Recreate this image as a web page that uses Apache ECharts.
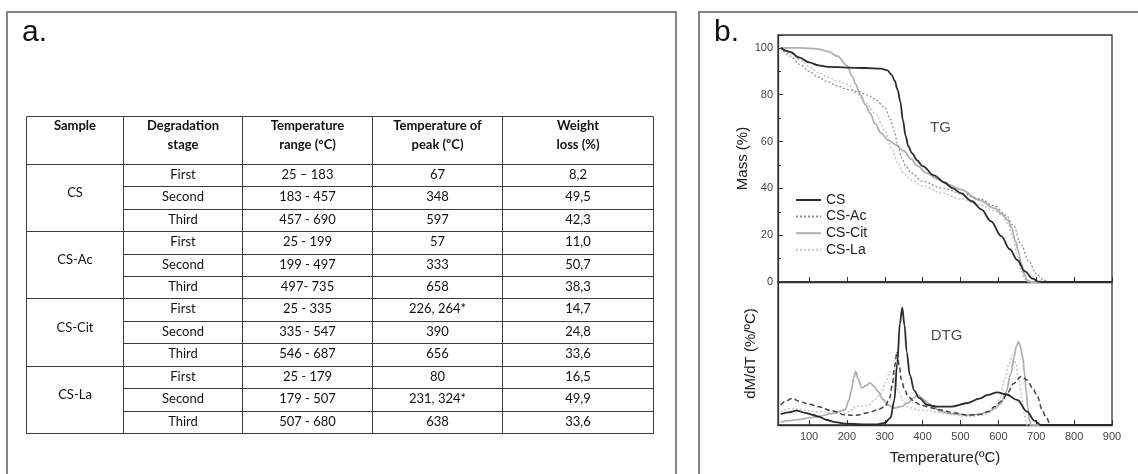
<!DOCTYPE html>
<html>
<head>
<meta charset="utf-8">
<script src="https://cdn.jsdelivr.net/npm/echarts@6/dist/echarts.min.js"></script>
<style>
html,body{margin:0;padding:0;background:#fff;}
#chart{width:1138px;height:474px;}
</style>
</head>
<body>
<div id="chart"></div>
<script>
// ---------------- DATA ----------------
const tableHeaders = ['Sample', 'Degradation\nstage', 'Temperature\nrange (°C)', 'Temperature of\npeak (ºC)', 'Weight\nloss (%)'];
const samples = ['CS', 'CS-Ac', 'CS-Cit', 'CS-La'];
const stages = ['First', 'Second', 'Third'];
const tempRanges = [
  ['25 – 183', '183 - 457', '457 - 690'],
  ['25 - 199', '199 - 497', '497- 735'],
  ['25 - 335', '335 - 547', '546 - 687'],
  ['25 - 179', '179 - 507', '507 - 680']
];
const peakTemps = [
  ['67', '348', '597'],
  ['57', '333', '658'],
  ['226, 264*', '390', '656'],
  ['80', '231, 324*', '638']
];
const weightLoss = [
  ['8,2', '49,5', '42,3'],
  ['11,0', '50,7', '38,3'],
  ['14,7', '24,8', '33,6'],
  ['16,5', '49,9', '33,6']
];

const tempTicks = [100, 200, 300, 400, 500, 600, 700, 800, 900];
const massTicks = [0, 20, 40, 60, 80, 100];

// TG curves: [temperature (°C), mass (%)]
const tgCS = [[25,100],[50,98.3],[75,95.8],[100,93.8],[125,92.5],[150,91.9],[200,91.6],[250,91.4],[290,91.1],[307,90.4],[318,88.5],[326,86],[334,82],[341,77],[348,69],[355,62.5],[362,58],[372,55],[385,52],[400,49.5],[430,45.5],[457,42.5],[480,40],[500,38],[530,34.5],[555,31],[580,26],[608,19.5],[630,14],[650,9.4],[670,4.5],[690,1.5],[705,0.2],[720,0],[900,0]];
const tgCSAc = [[25,100],[50,96.5],[75,93],[100,90],[124,87.5],[150,85.5],[175,83.7],[203,82.2],[230,81.3],[256,79.8],[275,78],[300,74.5],[315,69.5],[325,64.5],[335,58],[345,53],[355,49.5],[370,46.5],[400,43],[450,40.2],[500,38],[550,35.5],[590,32.5],[620,28.5],[640,24],[660,16],[680,9],[700,3.5],[720,0.8],[735,0],[900,0]];
const tgCSCit = [[25,100],[75,100],[100,99.8],[125,99.5],[150,98.5],[175,96.5],[200,92.5],[215,87.5],[223,84.5],[235,80],[250,75.5],[261,72],[275,67.5],[290,63.5],[310,60.5],[330,58.5],[350,56],[370,52.5],[387,49.5],[410,46.5],[440,44],[470,41.5],[500,39.5],[550,35],[590,31.5],[610,29],[625,26.5],[635,23],[645,17.5],[653,13],[660,8],[668,3.5],[676,0.8],[686,0],[900,0]];
const tgCSLa = [[25,100],[50,97.5],[75,95],[100,92],[124,89.5],[150,87.5],[175,85.8],[203,84.3],[225,80.5],[250,76.5],[275,72],[300,65],[318,57],[335,50.5],[350,46.5],[370,43.5],[400,41],[450,38],[500,35.5],[550,33],[590,30.5],[610,28.5],[625,25],[638,19],[650,11],[660,5],[670,1.2],[680,0],[900,0]];

// DTG curves: [temperature (°C), dM/dT (arbitrary units)]
const dtgCS = [[25,7.5],[45,8.8],[67,10],[90,8.5],[111,7],[125,5.8],[147,3.5],[170,2],[195,1],[240,0.4],[280,0.4],[300,1.5],[315,5],[325,17],[333,44],[340,71],[346,82],[352,70],[358,51],[366,35],[378,24],[390,19],[413,14],[440,12.8],[475,12.8],[519,15.4],[550,18.5],[572,21],[597,22.8],[620,21.5],[650,17.5],[676,9.3],[695,3],[712,0],[900,0]];
const dtgCSAc = [[25,14],[40,17],[55,18.6],[75,16.5],[100,14.5],[125,12.8],[160,10],[195,7],[225,6.8],[256,8.6],[280,10.5],[300,12.8],[312,18],[320,28],[326,41],[332,51.3],[338,42],[344,31.5],[352,25],[361,20],[380,16],[396,14],[420,12],[449,10.5],[480,8.5],[519,7],[554,7.5],[575,9.5],[589,12.8],[610,17],[624,22.4],[640,29],[660,34],[676,31.5],[690,26],[703,20],[715,11],[725,5.8],[738,0],[900,0]];
const dtgCSCit = [[25,2],[50,3],[77,4],[100,5],[125,6],[160,8],[195,10.5],[205,17],[212,24.5],[218,33],[223,37.3],[230,32],[239,25.9],[250,27.5],[261,29.4],[272,27],[282,23.3],[295,18],[308,14],[326,11.9],[345,13],[361,15.4],[375,19],[387,21],[400,18.5],[413,15.4],[430,12],[449,9.3],[480,7.8],[519,7],[550,7.5],[572,9.3],[590,11.5],[607,15.2],[620,23],[633,36],[642,48],[647,54.8],[653,58.3],[658,55],[664,47.8],[669,36],[673,24.5],[678,12],[682,3.5],[686,0],[900,0]];
const dtgCSLa = [[25,9],[50,11.5],[75,11],[100,10],[125,9.3],[160,8.5],[195,8],[210,10],[221,12.8],[231,13.5],[245,13],[256,14],[275,18],[291,22.4],[303,30],[314,37.3],[321,36],[328,30],[335,24.5],[348,17],[361,12.8],[380,11],[396,10.5],[431,9.3],[470,7.5],[519,5.8],[560,7],[589,10.5],[603,18],[616,31.5],[628,43],[638,49],[646,43],[655,31.5],[662,18],[668,8.2],[672,3],[676,0],[900,0]];

// ---------------- LAYOUT / STYLE ----------------
const FONT = 'Liberation Sans, Arial, sans-serif';
const TABLE_FONT = 'Lato, Carlito, Calibri, sans-serif';
const colWidths = [97, 119, 130, 130, 151];
const headerH = 48, rowH = 22.42;
const colEdges = [0];
colWidths.forEach(w => colEdges.push(colEdges[colEdges.length - 1] + w));
const rowEdges = [0, headerH];
for (let i = 1; i <= 12; i++) rowEdges.push(headerH + i * rowH);

// build table cells from the data arrays
const cells = [];
tableHeaders.forEach((h, c) => cells.push({col: c, r0: 0, r1: 1, text: h, kind: 'header'}));
samples.forEach((s, si) => {
  cells.push({col: 0, r0: 1 + si * 3, r1: 4 + si * 3, text: s, kind: 'group'});
  stages.forEach((st, k) => {
    const r = 1 + si * 3 + k;
    cells.push({col: 1, r0: r, r1: r + 1, text: st, kind: 'cell'});
    cells.push({col: 2, r0: r, r1: r + 1, text: tempRanges[si][k], kind: 'cell'});
    cells.push({col: 3, r0: r, r1: r + 1, text: peakTemps[si][k], kind: 'cell'});
    cells.push({col: 4, r0: r, r1: r + 1, text: weightLoss[si][k], kind: 'cell'});
  });
});

function renderCell(params, api) {
  const cell = cells[params.dataIndex];
  const p0 = api.coord([colEdges[cell.col], rowEdges[cell.r0]]);
  const p1 = api.coord([colEdges[cell.col + 1], rowEdges[cell.r1]]);
  const x0 = Math.round(p0[0]) + 0.5, y0 = Math.round(p0[1]) + 0.5;
  const x1 = Math.round(p1[0]) + 0.5, y1 = Math.round(p1[1]) + 0.5;
  let ty, va = 'middle';
  if (cell.kind === 'header') { ty = y0; va = 'top'; }
  else if (cell.kind === 'group') { ty = (y0 + y1) / 2 - 5; }
  else { ty = (y0 + y1) / 2 - 1; }
  return {
    type: 'group',
    children: [
      {type: 'rect', shape: {x: x0, y: y0, width: x1 - x0, height: y1 - y0},
       style: {fill: 'none', stroke: '#3c3c3c', lineWidth: 1}},
      {type: 'text', style: {
        text: cell.text, x: (x0 + x1) / 2, y: ty, align: 'center', verticalAlign: va,
        fontFamily: TABLE_FONT, fontSize: 13, lineHeight: 19,
        fontWeight: cell.kind === 'header' ? 'bold' : 'normal', fill: '#111'
      }}
    ]
  };
}

const seriesStyles = {
  'CS':     {tg: {color: '#2b2b2b', width: 1.8, type: 'solid'}, dtg: {color: '#2b2b2b', width: 1.8, type: 'solid'}, z: 6},
  'CS-Ac':  {tg: {color: '#8a8a8a', width: 1.2, type: [2, 2]},  dtg: {color: '#444444', width: 1.5, type: [5, 3]}, z: 5},
  'CS-Cit': {tg: {color: '#b0b0b0', width: 1.8, type: 'solid'}, dtg: {color: '#b0b0b0', width: 1.8, type: 'solid'}, z: 4},
  'CS-La':  {tg: {color: '#c6c6c6', width: 1.5, type: [2, 2]},  dtg: {color: '#c6c6c6', width: 1.5, type: [2, 2]}, z: 3}
};
const tgData = {'CS': tgCS, 'CS-Ac': tgCSAc, 'CS-Cit': tgCSCit, 'CS-La': tgCSLa};
const dtgData = {'CS': dtgCS, 'CS-Ac': dtgCSAc, 'CS-Cit': dtgCSCit, 'CS-La': dtgCSLa};

function lineSeries(name, data, style, axisIdx, z) {
  return {
    type: 'line', name, data, xAxisIndex: axisIdx, yAxisIndex: axisIdx,
    showSymbol: false, symbol: 'none', smooth: 0.35, smoothMonotone: 'x',
    lineStyle: {color: style.color, width: style.width, type: style.type},
    itemStyle: {color: style.color}, z, silent: true
  };
}

const series = [];
samples.forEach(n => series.push(lineSeries(n, tgData[n], seriesStyles[n].tg, 0, seriesStyles[n].z)));
samples.forEach(n => series.push(lineSeries(n, dtgData[n], seriesStyles[n].dtg, 1, seriesStyles[n].z)));

// panel annotations (data coordinates)
const annotations = [
  {text: 'TG', axis: 0, at: [447, 66]},
  {text: 'DTG', axis: 1, at: [463, 62]}
];
annotations.forEach(a => series.push({
  type: 'scatter', xAxisIndex: a.axis, yAxisIndex: a.axis, data: [a.at], symbolSize: 0, silent: true,
  label: {show: true, position: 'inside', formatter: a.text, fontSize: 15, fontFamily: FONT, color: '#222'}
}));

series.push({
  type: 'custom', xAxisIndex: 2, yAxisIndex: 2, silent: true, clip: false,
  data: cells.map(c => [colEdges[c.col], rowEdges[c.r0]]),
  renderItem: renderCell
});

const axisTextStyle = {fontSize: 11, fontFamily: FONT, color: '#444'};

const option = {
  animation: false,
  backgroundColor: '#fff',
  textStyle: {fontFamily: FONT},
  graphic: [
    {type: 'rect', silent: true, shape: {x: 7, y: 12, width: 669, height: 520}, style: {fill: 'none', stroke: '#858585', lineWidth: 2}},
    {type: 'rect', silent: true, shape: {x: 699, y: 12, width: 520, height: 520}, style: {fill: 'none', stroke: '#858585', lineWidth: 2}},
    {type: 'text', silent: true, left: 22, top: 18, style: {text: 'a.', fontSize: 30, fontFamily: FONT, fill: '#111'}},
    {type: 'text', silent: true, left: 714, top: 18, style: {text: 'b.', fontSize: 30, fontFamily: FONT, fill: '#111'}}
  ],
  legend: {
    data: samples, orient: 'vertical', left: 795, top: 193, padding: 0,
    itemWidth: 25, itemHeight: 14, itemGap: 2.6, selectedMode: false,
    itemStyle: {opacity: 0, borderWidth: 0},
    textStyle: {fontSize: 14, fontFamily: FONT, color: '#222'}
  },
  grid: [
    {left: 778, top: 35, width: 334, height: 247, show: true, borderColor: '#333', borderWidth: 1.3, backgroundColor: 'transparent', outerBoundsMode: 'none', containLabel: false},
    {left: 778, top: 282, width: 334, height: 143, show: true, borderColor: '#333', borderWidth: 1.3, backgroundColor: 'transparent', outerBoundsMode: 'none', containLabel: false},
    {left: 26, top: 116, width: 627, height: 317, show: false, outerBoundsMode: 'none', containLabel: false}
  ],
  xAxis: [
    {gridIndex: 0, type: 'value', min: 18, max: 900, splitNumber: 9,
     axisLine: {show: true, lineStyle: {color: '#333', width: 1.3}},
     axisTick: {show: true, inside: true, length: 5, lineStyle: {color: '#333'}},
     axisLabel: {show: false}, splitLine: {show: false}},
    {gridIndex: 1, type: 'value', min: 18, max: 900, splitNumber: 9,
     name: 'Temperature(ºC)', nameLocation: 'middle', nameGap: 25,
     nameTextStyle: {fontSize: 15, fontFamily: FONT, color: '#222'},
     axisLine: {show: true, lineStyle: {color: '#333', width: 1.3}},
     axisTick: {show: true, inside: true, length: 5, lineStyle: {color: '#333'}},
     axisLabel: Object.assign({show: true, margin: 6, formatter: v => tempTicks.includes(v) ? String(v) : ''}, axisTextStyle),
     splitLine: {show: false}},
    {gridIndex: 2, type: 'value', min: 0, max: colEdges[colEdges.length - 1], show: false}
  ],
  yAxis: [
    {gridIndex: 0, type: 'value', min: 0, max: 105.5, interval: 20,
     name: 'Mass (%)', nameLocation: 'middle', nameGap: 22,
     nameTextStyle: {fontSize: 15, fontFamily: FONT, color: '#222'},
     axisLine: {show: true, lineStyle: {color: '#333', width: 1.3}},
     axisTick: {show: true, inside: true, length: 5, lineStyle: {color: '#333'}},
     minorTick: {show: true, splitNumber: 2, length: 3, lineStyle: {color: '#333'}},
     axisLabel: Object.assign({show: true, margin: 5, formatter: v => massTicks.includes(v) ? String(v) : ''}, axisTextStyle),
     splitLine: {show: false}, minorSplitLine: {show: false}},
    {gridIndex: 1, type: 'value', min: 0, max: 100,
     name: 'dM/dT (%/ºC)', nameLocation: 'middle', nameGap: 20,
     nameTextStyle: {fontSize: 15, fontFamily: FONT, color: '#222'},
     axisLine: {show: true, lineStyle: {color: '#333', width: 1.3}},
     axisTick: {show: false}, axisLabel: {show: false}, splitLine: {show: false}},
    {gridIndex: 2, type: 'value', min: 0, max: rowEdges[rowEdges.length - 1], inverse: true, show: false}
  ],
  series
};

const chart = echarts.init(document.getElementById('chart'), null, {renderer: 'canvas'});
chart.setOption(option);
</script>
</body>
</html>
